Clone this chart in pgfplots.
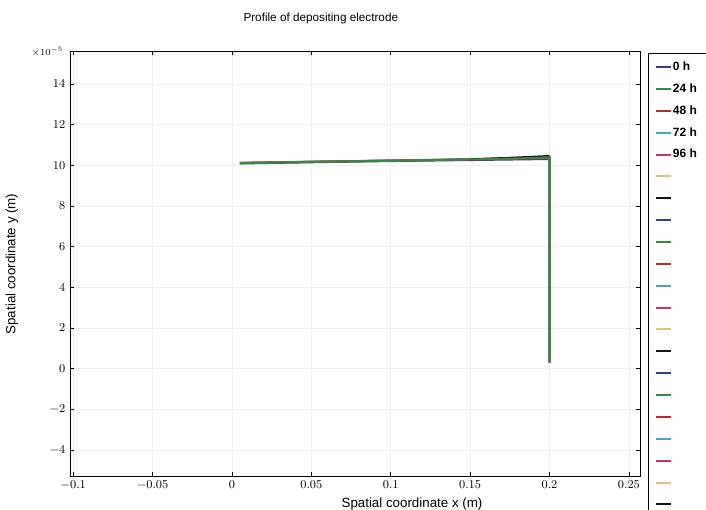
\documentclass[border=0pt]{standalone}
\usepackage{fontspec}
\setmainfont{Liberation Sans}
\usepackage{pgfplots}
\pgfplotsset{compat=1.18}

\definecolor{cblue}{RGB}{50,66,130}
\definecolor{cgreen}{RGB}{55,135,60}
\definecolor{cred}{RGB}{192,40,52}
\definecolor{ccyan}{RGB}{62,170,190}
\definecolor{cmag}{RGB}{200,50,112}
\definecolor{ctan}{RGB}{228,192,132}
\definecolor{cblack}{RGB}{20,20,20}

\begin{document}
\begin{tikzpicture}
\begin{axis}[
    scale only axis,
    width=427.5pt, height=318.75pt,
    xmin=-0.102, xmax=0.257,
    ymin=-5.3e-5, ymax=15.6e-5,
    xtick={-0.1,-0.05,0,0.05,0.1,0.15,0.2,0.25},
    ytick={-4e-5,-2e-5,0,2e-5,4e-5,6e-5,8e-5,10e-5,12e-5,14e-5},
    scaled x ticks=false,
    scaled y ticks=base 10:5,
    tick scale binop=\times,
    every y tick scale label/.style={at={(0,1)}, anchor=east, xshift=-5pt, inner sep=0pt,
        font=\fontsize{7.5}{8}\selectfont},
    xticklabel style={/pgf/number format/fixed, /pgf/number format/precision=2},
    yticklabel style={/pgf/number format/fixed, /pgf/number format/precision=2},
    tick label style={font=\fontsize{9.5}{10}\selectfont},
    major tick length=3pt,
    tick style={black, thin},
    axis line style={black, thin},
    grid=major,
    major grid style={gray!12, thin},
    xlabel={Spatial coordinate x (m)},
    ylabel={Spatial coordinate y (m)},
    label style={font=\fontsize{10.3}{12}\selectfont},
    every axis x label/.style={at={([yshift=-21pt]axis description cs:0.6,0)}, anchor=center},
    every axis y label/.style={at={([xshift=-43.5pt]axis description cs:0,0.5)}, anchor=center, rotate=90},
    title={Profile of depositing electrode},
    every axis title/.style={at={([yshift=25pt]axis description cs:0.44,1)}, anchor=center,
        font=\fontsize{8.8}{10}\selectfont},
    legend style={at={(1,1)}, anchor=north west, xshift=6pt, yshift=-1pt,
        draw=black, thin,
        font=\fontsize{9}{10}\selectfont\bfseries, row sep=5.4pt,
        inner xsep=5pt, inner ysep=5pt,
        nodes={inner sep=1pt, text height=7pt, text depth=2pt}},
    legend cell align=left,
    legend image code/.code={\draw[line width=1.5pt, #1] (0pt,0pt) -- (11pt,0pt);},
]
% profiles (all times nearly on top of each other)
\addplot[cblue, line width=1.8pt, forget plot] coordinates {
    (0.005,10.10e-5) (0.05,10.16e-5) (0.1,10.22e-5) (0.15,10.27e-5) (0.2,10.32e-5) (0.2,0.3e-5)};
\addplot[cred, line width=1.5pt, forget plot] coordinates {
    (0.005,10.12e-5) (0.05,10.17e-5) (0.1,10.23e-5) (0.15,10.29e-5) (0.18,10.33e-5) (0.2,10.36e-5) (0.2,0.3e-5)};
\addplot[ccyan, line width=1.3pt, forget plot] coordinates {
    (0.005,10.12e-5) (0.05,10.18e-5) (0.1,10.24e-5) (0.15,10.30e-5) (0.18,10.35e-5) (0.2,10.40e-5) (0.2,0.3e-5)};
\addplot[cmag, line width=1.1pt, forget plot] coordinates {
    (0.005,10.13e-5) (0.05,10.19e-5) (0.1,10.25e-5) (0.15,10.31e-5) (0.18,10.37e-5) (0.2,10.43e-5) (0.2,0.3e-5)};
\addplot[cblack, line width=1.6pt, forget plot] coordinates {
    (0.15,10.30e-5) (0.17,10.35e-5) (0.19,10.42e-5) (0.2,10.46e-5)};
\addplot[cgreen, line width=1.5pt, forget plot] coordinates {
    (0.005,10.11e-5) (0.05,10.17e-5) (0.1,10.23e-5) (0.15,10.29e-5) (0.18,10.34e-5) (0.2,10.40e-5) (0.2,0.3e-5)};

% legend (COMSOL colour cycle)
\addlegendimage{cblue}  \addlegendentry{0 h\rule{18pt}{0pt}}
\addlegendimage{cgreen} \addlegendentry{24 h}
\addlegendimage{cred}   \addlegendentry{48 h}
\addlegendimage{ccyan}  \addlegendentry{72 h}
\addlegendimage{cmag}   \addlegendentry{96 h}
\addlegendimage{ctan}   \addlegendentry{}
\addlegendimage{cblack} \addlegendentry{}
\addlegendimage{cblue}  \addlegendentry{}
\addlegendimage{cgreen} \addlegendentry{}
\addlegendimage{cred}   \addlegendentry{}
\addlegendimage{ccyan}  \addlegendentry{}
\addlegendimage{cmag}   \addlegendentry{}
\addlegendimage{ctan}   \addlegendentry{}
\addlegendimage{cblack} \addlegendentry{}
\addlegendimage{cblue}  \addlegendentry{}
\addlegendimage{cgreen} \addlegendentry{}
\addlegendimage{cred}   \addlegendentry{}
\addlegendimage{ccyan}  \addlegendentry{}
\addlegendimage{cmag}   \addlegendentry{}
\addlegendimage{ctan}   \addlegendentry{}
\addlegendimage{cblack} \addlegendentry{}

\coordinate (SW) at (rel axis cs:0,0);
\coordinate (NE) at (rel axis cs:1,1);
\end{axis}
\pgfresetboundingbox
\path[use as bounding box] ([shift={(-52.5pt,-25.1pt)}]SW) rectangle ([shift={(49.5pt,38.6pt)}]NE);
\end{tikzpicture}
\end{document}
